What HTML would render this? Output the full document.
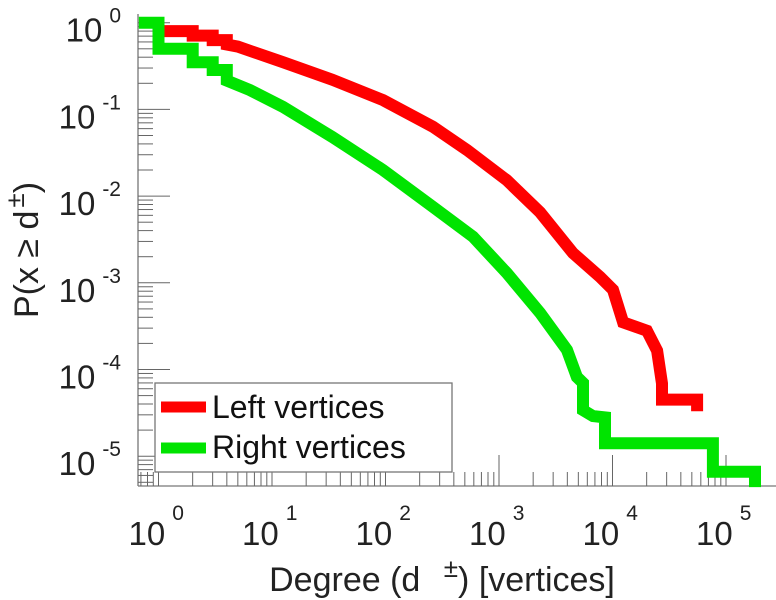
<!DOCTYPE html>
<html><head><meta charset="utf-8"><style>
html,body{margin:0;padding:0;background:#fff;}
svg{display:block;font-family:"Liberation Sans",sans-serif;}
</style></head><body>
<svg id="chart" width="776" height="600" viewBox="0 0 776 600" xmlns="http://www.w3.org/2000/svg">
<g id="axes"></g>
<g id="series"></g>
<text transform="translate(38,250) rotate(-90)" text-anchor="middle" font-size="34" fill="#222">P(x ≥ d<tspan dx="3" dy="-14" font-size="26">±</tspan><tspan dy="14">)</tspan></text>
<text x="442" y="591" text-anchor="middle" font-size="34" fill="#222">Degree (d <tspan dx="14" dy="-14" font-size="26">±</tspan><tspan dy="14">) [vertices]</tspan></text>
<g>
<rect x="155" y="383" width="297" height="89" fill="#fff" stroke="#777" stroke-width="1.3"/>
<line x1="161" y1="407" x2="206" y2="407" stroke="#ff0000" stroke-width="11"/>
<text x="212" y="418" font-size="32" fill="#111">Left vertices</text>
<line x1="161" y1="448" x2="206" y2="448" stroke="#00e400" stroke-width="11"/>
<text x="212" y="458" font-size="32" fill="#111">Right vertices</text>
</g>
</svg>
<script>
const xTicks = [0, 1, 2, 3, 4, 5];
const yTicks = [0, -1, -2, -3, -4, -5];
const leftDegree = [1, 2, 2, 3, 3, 4, 4, 5, 12.5, 34, 95, 262, 522, 1170, 2300, 4490, 7760, 10100, 12400, 20100, 24700, 27300, 27300, 55600, 55600];
const leftProb = [0.80, 0.80, 0.71, 0.71, 0.63, 0.63, 0.56, 0.53, 0.35, 0.22, 0.128, 0.063, 0.034, 0.0153, 0.0065, 0.0022, 0.00117, 0.00083, 0.00035, 0.00028, 0.000165, 0.000069, 0.000045, 0.000045, 0.000033];
const rightDegree = [0.67, 1, 1, 2, 2, 3, 3, 4, 4, 6.4, 12.5, 34, 95, 262, 590, 1170, 2300, 3970, 4860, 5500, 5500, 6730, 8590, 8590, 76700, 76700, 180000, 180000];
const rightProb = [1.0, 1.0, 0.50, 0.50, 0.35, 0.35, 0.285, 0.285, 0.215, 0.167, 0.107, 0.048, 0.020, 0.0075, 0.0034, 0.0013, 0.00045, 0.000168, 0.000082, 0.000070, 0.000034, 0.000029, 0.000028, 0.0000141, 0.0000141, 0.0000066, 0.0000066, 0.0000044];

const NS = "http://www.w3.org/2000/svg";
const X0 = 158.5, XD = 113.5, Y0 = 22.7, YD = 86.7;
const AX_L = 138, AX_R = 776, AX_B = 486, AX_T = 14;
function xs(d){ return X0 + Math.log10(d) * XD; }
function ys(p){ return Y0 - Math.log10(p) * YD; }
function mk(tag, attrs, parent){ const e = document.createElementNS(NS, tag); for (const k in attrs) e.setAttribute(k, attrs[k]); parent.appendChild(e); return e; }

const axes = document.getElementById('axes');
const xl = mk('line', {x1: AX_L, y1: AX_B, x2: AX_R, y2: AX_B, stroke: '#777', 'stroke-width': 1.3}, axes);


const yl = mk('line', {x1: AX_L, y1: AX_T, x2: AX_L, y2: AX_B, stroke: '#777', 'stroke-width': 1.3}, axes);



for (let dec = -1; dec <= 5; dec++) {
  for (let m = 1; m <= 9; m++) {
    const x = X0 + (dec + Math.log10(m)) * XD;
    if (x < AX_L || x > AX_R) continue;
    const len = m === 1 ? 31 : 14;
    const t = mk('line', {x1: x, y1: AX_B, x2: x, y2: AX_B - len, stroke: '#666', 'stroke-width': 1}, axes);
    
    
  }
}
xTicks.forEach(e => {
  const x = X0 + e * XD;
  const t = mk('text', {x: x - 30, y: 545, 'font-size': 33, fill: '#222'}, axes);
  
  
  t.textContent = '10';
  const s = mk('tspan', {dx: 7, dy: -25, 'font-size': 21}, t);
  s.textContent = String(e);
});
for (let dec = -6; dec <= 0; dec++) {
  for (let m = 1; m <= 9; m++) {
    const y = Y0 - (dec + Math.log10(m)) * YD;
    if (y > AX_B || y < AX_T) continue;
    const len = m === 1 ? 32 : 15;
    const t = mk('line', {x1: AX_L, y1: y, x2: AX_L + len, y2: y, stroke: '#666', 'stroke-width': 1}, axes);
    
    
  }
}
yTicks.forEach(e => {
  const y = Y0 - e * YD;
  const t = mk('text', {x: 121, y: y + 19, 'font-size': 33, fill: '#222', 'text-anchor': 'end'}, axes);
  
  
  t.textContent = '10';
  const s = mk('tspan', {dx: 7, dy: -19, 'font-size': 21}, t);
  s.textContent = String(e);
});

const series = document.getElementById('series');
function draw(ds, ps, color, name){
  const pts = ds.map((d, i) => xs(d).toFixed(1) + ',' + ys(ps[i]).toFixed(1)).join(' ');
  const pl = mk('polyline', {points: pts, fill: 'none', stroke: color, 'stroke-width': 12, 'stroke-linejoin': 'miter'}, series);
  
  
}
draw(leftDegree, leftProb, '#ff0000', 'left-vertices-line');
draw(rightDegree, rightProb, '#00e400', 'right-vertices-line');
</script>
</body></html>
